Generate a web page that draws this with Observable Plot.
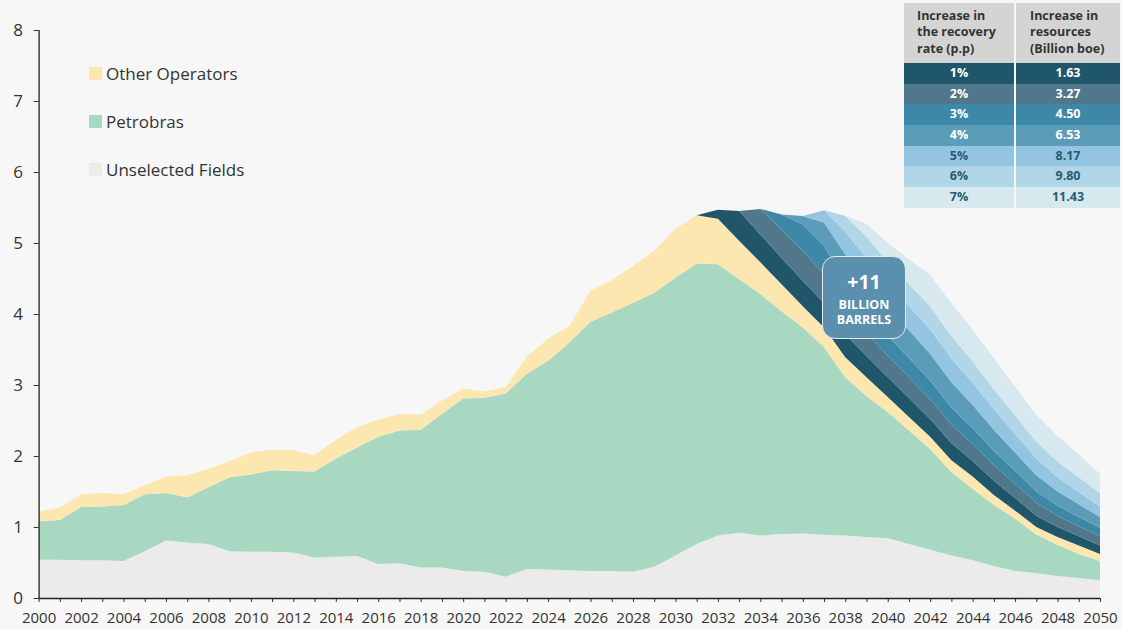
<!DOCTYPE html>
<html>
<head>
<meta charset="utf-8">
<script src="https://cdn.jsdelivr.net/npm/d3@7"></script>
<script src="https://cdn.jsdelivr.net/npm/@observablehq/plot@0.6"></script>
<style>
  html, body { margin: 0; padding: 0; background: #f7f7f7; }
  #wrap { position: relative; width: 1122px; height: 629px; font-family: "Open Sans", sans-serif; color: #333; overflow: hidden; }
  #chart { position: absolute; left: 0; top: 0; }
  .leg { position: absolute; left: 89px; height: 20px; display: flex; align-items: center; font-size: 17px; color: #333; white-space: nowrap; }
  .leg .sw { width: 13px; height: 13px; margin-right: 4px; display: inline-block; }
  #tbl { position: absolute; left: 904px; top: 3px; width: 216px; font-weight: 700; font-size: 12.5px; }
  #tbl .row { display: flex; }
  #tbl .c1 { width: 110px; }
  #tbl .c2 { width: 104px; margin-left: 2px; }
  #tbl .hdr .c1, #tbl .hdr .c2 { background: #d4d4d4; height: 60px; box-sizing: border-box; padding: 5px 0 0 13px; line-height: 16.3px; color: #333; }
  #tbl .hdr .c2 { padding-left: 14px; }
  #tbl .dat .c1, #tbl .dat .c2 { height: 20.7px; line-height: 20.7px; text-align: center; }
  #callout { position: absolute; left: 822px; top: 256px; width: 82px; height: 81px; background: #5a8fad; border: 1.5px solid #e2eaef; border-radius: 13px; color: #fff; font-weight: 700; text-align: center; }
  #callout .big { position: absolute; left: 0; right: 0; top: 15px; font-size: 19.5px; line-height: 20px; }
  #callout .small { position: absolute; left: 0; right: 0; font-size: 12.5px; line-height: 14px; }
</style>
</head>
<body>
<div id="wrap"><div id="chart"></div></div>
<script>
// ---------- DATA ----------
const years = d3.range(2000, 2051);
// Million barrels of oil equivalent per day (stack thickness)
const unselectedFields = [0.54,0.54,0.53,0.53,0.52,0.66,0.81,0.78,0.76,0.66,0.65,0.65,0.64,0.57,0.58,0.59,0.48,0.49,0.43,0.43,0.38,0.37,0.30,0.41,0.40,0.39,0.38,0.38,0.37,0.44,0.60,0.76,0.88,0.92,0.88,0.90,0.91,0.89,0.88,0.86,0.84,0.76,0.68,0.60,0.53,0.45,0.38,0.35,0.31,0.28,0.25];
const petrobras = [0.54,0.56,0.75,0.76,0.79,0.80,0.67,0.64,0.80,1.04,1.09,1.15,1.15,1.21,1.38,1.53,1.79,1.87,1.94,2.16,2.43,2.45,2.58,2.75,2.94,3.21,3.51,3.64,3.79,3.86,3.91,3.95,3.82,3.57,3.40,3.14,2.90,2.64,2.23,1.98,1.78,1.60,1.42,1.17,1.01,0.86,0.74,0.54,0.44,0.34,0.27];
const otherOperators = [0.14,0.17,0.18,0.19,0.15,0.13,0.23,0.31,0.26,0.23,0.31,0.29,0.29,0.23,0.27,0.29,0.24,0.23,0.21,0.19,0.14,0.09,0.09,0.24,0.31,0.23,0.44,0.46,0.52,0.59,0.69,0.68,0.64,0.54,0.45,0.38,0.30,0.28,0.28,0.27,0.21,0.19,0.17,0.17,0.17,0.14,0.11,0.11,0.11,0.12,0.10];

// Recovery-rate increments, 2031–2050
const recoveryYears = d3.range(2031, 2051);
const rec1 = [0,0.13,0.42,0.39,0.37,0.36,0.34,0.32,0.30,0.28,0.27,0.25,0.24,0.22,0.20,0.18,0.16,0.14,0.13,0.12];
const rec2 = [0,0,0,0.36,0.40,0.42,0.41,0.38,0.33,0.30,0.29,0.28,0.26,0.24,0.22,0.20,0.18,0.16,0.14,0.13];
const rec3 = [0,0,0,0,0.21,0.37,0.40,0.35,0.30,0.28,0.27,0.26,0.24,0.22,0.20,0.18,0.16,0.14,0.13,0.12];
const rec4 = [0,0,0,0,0,0.12,0.33,0.40,0.40,0.40,0.39,0.38,0.36,0.33,0.30,0.26,0.23,0.20,0.18,0.15];
const rec5 = [0,0,0,0,0,0,0.17,0.32,0.35,0.34,0.34,0.34,0.33,0.31,0.29,0.26,0.23,0.20,0.17,0.15];
const rec6 = [0,0,0,0,0,0,0,0.22,0.30,0.30,0.31,0.33,0.32,0.30,0.28,0.26,0.24,0.22,0.21,0.19];
const rec7 = [0,0,0,0,0,0,0,0,0.18,0.27,0.35,0.44,0.46,0.45,0.44,0.41,0.38,0.36,0.32,0.27];

// Table
const recoveryRates = ["1%","2%","3%","4%","5%","6%","7%"];
const resourceIncrease = ["1.63","3.27","4.50","6.53","8.17","9.80","11.43"];
const tableHeader = [["Increase in","the recovery","rate (p.p)"],["Increase in","resources","(Billion boe)"]];

// Legend
const legendLabels = ["Other Operators","Petrobras","Unselected Fields"];
const calloutText = ["+11","BILLION","BARRELS"];

// Colours
const baseNames = ["Unselected Fields","Petrobras","Other Operators"];
const baseColors = ["#ebebeb","#a8d8c2","#fde7b0"];
const recColors = ["#1f5669","#50778a","#3d87a7","#5b9cb9","#93c5e1","#b1d6e7","#d8e8ef"];
const recTextColors = ["#fff","#fff","#fff","#fff","#245c71","#245c71","#245c71"];

// ---------- BUILD ----------
const rows = [];
const baseSeries = [unselectedFields, petrobras, otherOperators];
baseSeries.forEach((arr, k) => years.forEach((yr, i) => rows.push({year: yr, series: baseNames[k], value: arr[i]})));
const recSeries = [rec1, rec2, rec3, rec4, rec5, rec6, rec7];
recSeries.forEach((arr, k) => recoveryYears.forEach((yr, i) => rows.push({year: yr, series: recoveryRates[k], value: arr[i]})));
const order = [...baseNames, ...recoveryRates];

const chart = Plot.plot({
  width: 1122,
  height: 629,
  marginLeft: 38.6,
  marginRight: 22,
  marginTop: 30,
  marginBottom: 31,
  style: {background: "transparent", fontFamily: "'Open Sans', sans-serif", color: "#333", overflow: "visible"},
  x: {domain: [2000, 2050]},
  y: {domain: [0, 8]},
  color: {domain: order, range: [...baseColors, ...recColors]},
  marks: [
    Plot.areaY(rows, {x: "year", y: "value", z: "series", fill: "series", order: order}),
    Plot.axisY({ticks: d3.range(0, 9), tickFormat: d => String(d), tickSize: 5, tickPadding: 11, fontSize: 17, color: "#333", label: null}),
    Plot.axisX({ticks: years, tickFormat: d => d % 2 === 0 ? String(d) : "", tickSize: 4, tickPadding: 10, fontSize: 15, color: "#333", label: null}),
    Plot.ruleX([2000], {stroke: "#222", strokeWidth: 1.3}),
    Plot.ruleY([0], {stroke: "#222", strokeWidth: 1.3})
  ]
});
const wrap = document.getElementById("wrap");
document.getElementById("chart").appendChild(chart);

// Legend (top to bottom)
const legendColorMap = {"Other Operators": baseColors[2], "Petrobras": baseColors[1], "Unselected Fields": baseColors[0]};
const legendTops = [63, 111, 159];
legendLabels.forEach((lab, i) => {
  const d = document.createElement("div");
  d.className = "leg";
  d.style.top = legendTops[i] + "px";
  d.innerHTML = `<span class="sw" style="background:${legendColorMap[lab]}"></span><span>${lab}</span>`;
  wrap.appendChild(d);
});

// Table
const tbl = document.createElement("div");
tbl.id = "tbl";
let html = `<div class="row hdr"><div class="c1">${tableHeader[0].join("<br>")}</div><div class="c2">${tableHeader[1].join("<br>")}</div></div>`;
recoveryRates.forEach((r, i) => {
  html += `<div class="row dat" style="color:${recTextColors[i]}"><div class="c1" style="background:${recColors[i]}">${r}</div><div class="c2" style="background:${recColors[i]}">${resourceIncrease[i]}</div></div>`;
});
tbl.innerHTML = html;
wrap.appendChild(tbl);

// Callout
const co = document.createElement("div");
co.id = "callout";
co.innerHTML = `<div class="big">${calloutText[0]}</div><div class="small" style="top:41px">${calloutText[1]}</div><div class="small" style="top:56px">${calloutText[2]}</div>`;
wrap.appendChild(co);
</script>
</body>
</html>
